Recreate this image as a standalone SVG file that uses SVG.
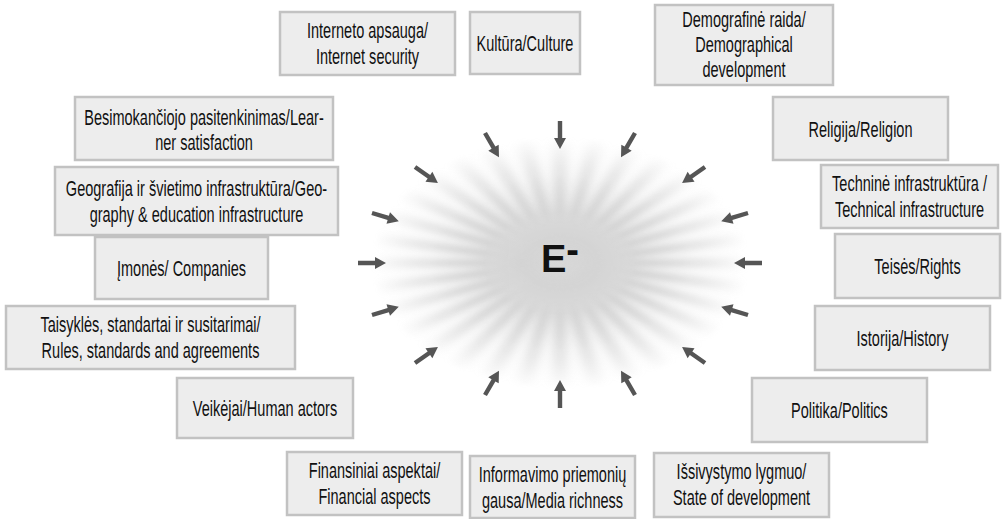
<svg xmlns="http://www.w3.org/2000/svg" xmlns:xlink="http://www.w3.org/1999/xlink" width="1003" height="519" viewBox="0 0 1003 519">
<defs>
<style>
.box{fill:#ededed;stroke:#c2c2c2;stroke-width:2.5}
.t{font-family:"Liberation Sans",Arial,sans-serif;font-size:22px;fill:#111111;text-anchor:middle}
.arr{fill:#555555}
</style>
<radialGradient id="base" cx="0" cy="0" r="185" gradientUnits="userSpaceOnUse">
<stop offset="0" stop-color="#e0e0e0"/>
<stop offset="0.3" stop-color="#eeeeee"/>
<stop offset="0.7" stop-color="#fafafa"/>
<stop offset="1" stop-color="#ffffff"/>
</radialGradient>
<radialGradient id="fadeg" cx="0" cy="0" r="190" gradientUnits="userSpaceOnUse">
<stop offset="0" stop-color="#ffffff" stop-opacity="0.3"/>
<stop offset="0.18" stop-color="#ffffff" stop-opacity="0.65"/>
<stop offset="0.4" stop-color="#ffffff" stop-opacity="0.7"/>
<stop offset="0.7" stop-color="#ffffff" stop-opacity="0.3"/>
<stop offset="1" stop-color="#ffffff" stop-opacity="0"/>
</radialGradient>
<mask id="fade" maskUnits="userSpaceOnUse" x="-200" y="-200" width="400" height="400">
<circle cx="0" cy="0" r="195" fill="url(#fadeg)"/>
</mask>
<filter id="blur" x="-0.2" y="-0.2" width="1.4" height="1.4">
<feGaussianBlur stdDeviation="5.5"/>
</filter>
<path id="ray" d="M0,0 L195,-9 L195,9 Z" fill="#a6a6a6"/>
<path id="arrow" class="arr" d="M0,-2.2 L17,-2.2 L17,-6 L28,0 L17,6 L17,2.2 L0,2.2 Z"/>
</defs>
<rect width="1003" height="519" fill="#ffffff"/>
<g id="burst" transform="translate(560 263) scale(1 0.67)">
<circle cx="0" cy="0" r="185" fill="url(#base)"/>
<g mask="url(#fade)" filter="url(#blur)">
<use xlink:href="#ray" transform="rotate(0)"/><use xlink:href="#ray" transform="rotate(11.25)"/><use xlink:href="#ray" transform="rotate(22.5)"/><use xlink:href="#ray" transform="rotate(33.75)"/><use xlink:href="#ray" transform="rotate(45)"/><use xlink:href="#ray" transform="rotate(56.25)"/><use xlink:href="#ray" transform="rotate(67.5)"/><use xlink:href="#ray" transform="rotate(78.75)"/><use xlink:href="#ray" transform="rotate(90)"/><use xlink:href="#ray" transform="rotate(101.25)"/><use xlink:href="#ray" transform="rotate(112.5)"/><use xlink:href="#ray" transform="rotate(123.75)"/><use xlink:href="#ray" transform="rotate(135)"/><use xlink:href="#ray" transform="rotate(146.25)"/><use xlink:href="#ray" transform="rotate(157.5)"/><use xlink:href="#ray" transform="rotate(168.75)"/><use xlink:href="#ray" transform="rotate(180)"/><use xlink:href="#ray" transform="rotate(191.25)"/><use xlink:href="#ray" transform="rotate(202.5)"/><use xlink:href="#ray" transform="rotate(213.75)"/><use xlink:href="#ray" transform="rotate(225)"/><use xlink:href="#ray" transform="rotate(236.25)"/><use xlink:href="#ray" transform="rotate(247.5)"/><use xlink:href="#ray" transform="rotate(258.75)"/><use xlink:href="#ray" transform="rotate(270)"/><use xlink:href="#ray" transform="rotate(281.25)"/><use xlink:href="#ray" transform="rotate(292.5)"/><use xlink:href="#ray" transform="rotate(303.75)"/><use xlink:href="#ray" transform="rotate(315)"/><use xlink:href="#ray" transform="rotate(326.25)"/><use xlink:href="#ray" transform="rotate(337.5)"/><use xlink:href="#ray" transform="rotate(348.75)"/>
</g>
</g>
<g id="center">
<text x="541" y="272" style="font-family:'Liberation Sans',Arial,sans-serif;font-weight:bold;font-size:38px;fill:#111">E<tspan dy="-9">-</tspan></text>
</g>
<g id="connectors">
<use xlink:href="#arrow" transform="translate(560 121) rotate(90)"/>
<use xlink:href="#arrow" transform="translate(635 133) rotate(120)"/>
<use xlink:href="#arrow" transform="translate(485 133) rotate(60)"/>
<use xlink:href="#arrow" transform="translate(415 167) rotate(35)"/>
<use xlink:href="#arrow" transform="translate(705 167) rotate(145)"/>
<use xlink:href="#arrow" transform="translate(372 213) rotate(17)"/>
<use xlink:href="#arrow" transform="translate(748 213) rotate(163)"/>
<use xlink:href="#arrow" transform="translate(358 263) rotate(0)"/>
<use xlink:href="#arrow" transform="translate(762 263) rotate(180)"/>
<use xlink:href="#arrow" transform="translate(372 315) rotate(-17)"/>
<use xlink:href="#arrow" transform="translate(748 315) rotate(-163)"/>
<use xlink:href="#arrow" transform="translate(415 363) rotate(-35)"/>
<use xlink:href="#arrow" transform="translate(705 363) rotate(-145)"/>
<use xlink:href="#arrow" transform="translate(485 395) rotate(-60)"/>
<use xlink:href="#arrow" transform="translate(560 408) rotate(-90)"/>
<use xlink:href="#arrow" transform="translate(635 395) rotate(-120)"/>
</g>
<g id="n-internet"><rect class="box" x="280" y="12" width="175" height="63"/>
<text class="t" transform="translate(367.5 0) scale(0.66 1)" x="0" y="38">Interneto apsauga/</text>
<text class="t" transform="translate(367.5 0) scale(0.66 1)" x="0" y="64">Internet security</text></g>
<g id="n-culture"><rect class="box" x="470" y="12" width="110" height="62"/>
<text class="t" transform="translate(525 0) scale(0.66 1)" x="0" y="51">Kultūra/Culture</text></g>
<g id="n-demo"><rect class="box" x="655" y="5" width="178" height="80"/>
<text class="t" transform="translate(744 0) scale(0.66 1)" x="0" y="27">Demografinė raida/</text>
<text class="t" transform="translate(744 0) scale(0.66 1)" x="0" y="52">Demographical</text>
<text class="t" transform="translate(744 0) scale(0.66 1)" x="0" y="77">development</text></g>
<g id="n-learner"><rect class="box" x="75" y="97" width="258" height="63"/>
<text class="t" transform="translate(204 0) scale(0.66 1)" x="0" y="125">Besimokančiojo pasitenkinimas/Lear-</text>
<text class="t" transform="translate(204 0) scale(0.66 1)" x="0" y="150">ner satisfaction</text></g>
<g id="n-geo"><rect class="box" x="55" y="167" width="283" height="68"/>
<text class="t" transform="translate(196.5 0) scale(0.66 1)" x="0" y="196">Geografija ir švietimo infrastruktūra/Geo-</text>
<text class="t" transform="translate(196.5 0) scale(0.66 1)" x="0" y="222">graphy &amp; education infrastructure</text></g>
<g id="n-companies"><rect class="box" x="95" y="237" width="173" height="62"/>
<text class="t" transform="translate(181.5 0) scale(0.66 1)" x="0" y="276">Įmonės/ Companies</text></g>
<g id="n-rules"><rect class="box" x="6" y="306" width="289" height="63"/>
<text class="t" transform="translate(150.5 0) scale(0.66 1)" x="0" y="332">Taisyklės, standartai ir susitarimai/</text>
<text class="t" transform="translate(150.5 0) scale(0.66 1)" x="0" y="358">Rules, standards and agreements</text></g>
<g id="n-actors"><rect class="box" x="177" y="378" width="176" height="60"/>
<text class="t" transform="translate(265 0) scale(0.66 1)" x="0" y="416">Veikėjai/Human actors</text></g>
<g id="n-finance"><rect class="box" x="287" y="452" width="175" height="63"/>
<text class="t" transform="translate(374.5 0) scale(0.66 1)" x="0" y="478">Finansiniai aspektai/</text>
<text class="t" transform="translate(374.5 0) scale(0.66 1)" x="0" y="504">Financial aspects</text></g>
<g id="n-media"><rect class="box" x="470" y="456" width="165" height="62"/>
<text class="t" transform="translate(552.5 0) scale(0.66 1)" x="0" y="482">Informavimo priemonių</text>
<text class="t" transform="translate(552.5 0) scale(0.66 1)" x="0" y="508">gausa/Media richness</text></g>
<g id="n-state"><rect class="box" x="654" y="453" width="175" height="64"/>
<text class="t" transform="translate(741.5 0) scale(0.66 1)" x="0" y="479">Išsivystymo lygmuo/</text>
<text class="t" transform="translate(741.5 0) scale(0.66 1)" x="0" y="505">State of development</text></g>
<g id="n-politics"><rect class="box" x="752" y="378" width="175" height="64"/>
<text class="t" transform="translate(839.5 0) scale(0.66 1)" x="0" y="418">Politika/Politics</text></g>
<g id="n-history"><rect class="box" x="815" y="306" width="175" height="64"/>
<text class="t" transform="translate(902.5 0) scale(0.66 1)" x="0" y="346">Istorija/History</text></g>
<g id="n-rights"><rect class="box" x="835" y="234" width="165" height="64"/>
<text class="t" transform="translate(917.5 0) scale(0.66 1)" x="0" y="274">Teisės/Rights</text></g>
<g id="n-technical"><rect class="box" x="821" y="165" width="177" height="63"/>
<text class="t" transform="translate(909.5 0) scale(0.66 1)" x="0" y="191">Techninė infrastruktūra /</text>
<text class="t" transform="translate(909.5 0) scale(0.66 1)" x="0" y="217">Technical infrastructure</text></g>
<g id="n-religion"><rect class="box" x="773" y="97" width="175" height="63"/>
<text class="t" transform="translate(860.5 0) scale(0.66 1)" x="0" y="137">Religija/Religion</text></g>
</svg>
